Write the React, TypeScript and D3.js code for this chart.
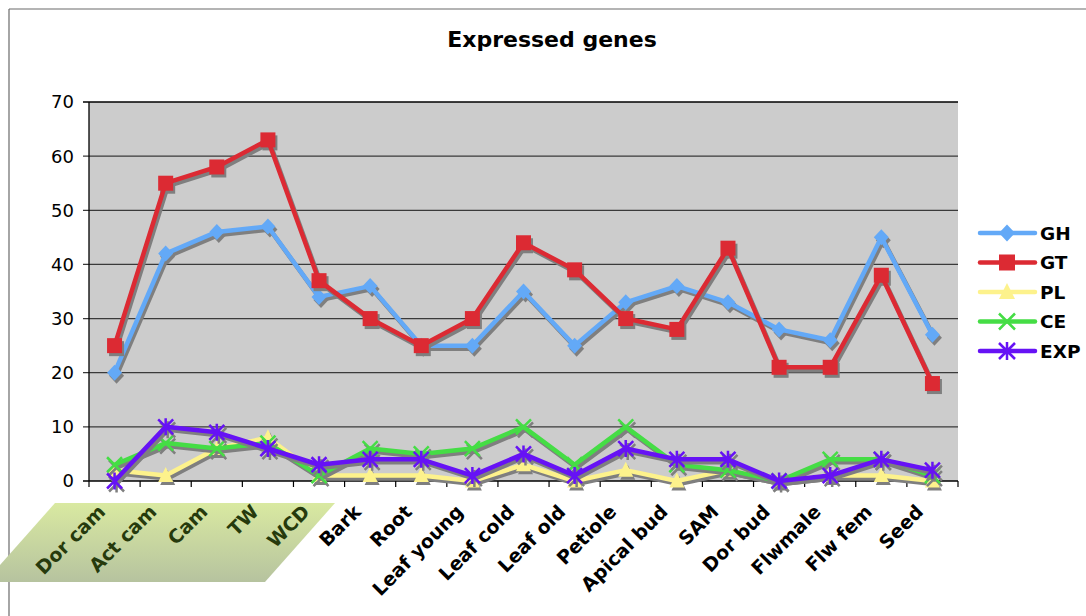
import React from 'react';
import * as d3 from 'd3';

const categories = [
  'Dor cam', 'Act cam', 'Cam', 'TW', 'WCD', 'Bark', 'Root', 'Leaf young', 'Leaf cold',
  'Leaf old', 'Petiole', 'Apical bud', 'SAM', 'Dor bud', 'Flwmale', 'Flw fem', 'Seed',
];
const highlighted = ['Dor cam', 'Act cam', 'Cam', 'TW', 'WCD'];

const ghValues = [20, 42, 46, 47, 34, 36, 25, 25, 35, 25, 33, 36, 33, 28, 26, 45, 27];
const gtValues = [25, 55, 58, 63, 37, 30, 25, 30, 44, 39, 30, 28, 43, 21, 21, 38, 18];
const plValues = [2, 1, 6, 8, 1, 1, 1, 0, 3, 0, 2, 0, 2, 0, 1, 1, 0];
const ceValues = [3, 7, 6, 7, 1, 6, 5, 6, 10, 3, 10, 3, 2, 0, 4, 4, 1];
const expValues = [0, 10, 9, 6, 3, 4, 4, 1, 5, 1, 6, 4, 4, 0, 1, 4, 2];
const yTicks = [0, 10, 20, 30, 40, 50, 60, 70];

const seriesList = [
  { name: 'GH', values: ghValues, color: '#63a9f7', marker: 'diamond' },
  { name: 'GT', values: gtValues, color: '#dc2a33', marker: 'square' },
  { name: 'PL', values: plValues, color: '#fdf28c', marker: 'triangle' },
  { name: 'CE', values: ceValues, color: '#45dd45', marker: 'x' },
  { name: 'EXP', values: expValues, color: '#6612f5', marker: 'star' },
];

const W = 1086;
const H = 616;
const plot = { left: 89, right: 958, top: 102, bottom: 481 };
const font = '"DejaVu Sans", Verdana, sans-serif';

function Marker({ type, x, y, color, s = 7.5 }: { type: string; x: number; y: number; color: string; s?: number }) {
  if (type === 'diamond') {
    return <path d={`M${x},${y - s - 0.5}L${x + s},${y}L${x},${y + s + 0.5}L${x - s},${y}Z`} fill={color} />;
  }
  if (type === 'square') {
    return <rect x={x - s} y={y - s} width={s * 2} height={s * 2} fill={color} />;
  }
  if (type === 'triangle') {
    return <path d={`M${x},${y - s - 1}L${x + s},${y + s - 1}L${x - s},${y + s - 1}Z`} fill={color} />;
  }
  if (type === 'x') {
    return (
      <path d={`M${x - s},${y - s}L${x + s},${y + s}M${x - s},${y + s}L${x + s},${y - s}`}
        stroke={color} strokeWidth={2.5} fill="none" />
    );
  }
  // asterisk
  return (
    <path
      d={`M${x - s},${y - s}L${x + s},${y + s}M${x - s},${y + s}L${x + s},${y - s}M${x},${y - s - 1}L${x},${y + s + 1}`}
      stroke={color} strokeWidth={2.5} fill="none" />
  );
}

export default function App() {
  const x = d3.scaleBand<string>().domain(categories).range([plot.left, plot.right]);
  const y = d3.scaleLinear().domain([0, 70]).range([plot.bottom, plot.top]);
  const cx = (c: string) => (x(c) as number) + x.bandwidth() / 2;

  const line = d3.line<number>()
    .x((_, i) => cx(categories[i]))
    .y(d => y(d));

  const bw = x.bandwidth();
  const boundaries = d3.range(categories.length + 1).map(i => plot.left + i * bw);

  // green parallelogram behind the first five labels
  const pTop = 503;
  const pBot = 582;
  const pLeftTop = 55;
  const pRightTop = 335;
  const skew = 70;

  return (
    <svg width={W} height={H} style={{ position: 'absolute', left: 0, top: 0, background: '#fff' }}>
      <defs>
        <linearGradient id="band" x1="0" y1="0" x2="0" y2="1">
          <stop offset="0%" stopColor="#d9e9a1" />
          <stop offset="100%" stopColor="#b6c39f" />
        </linearGradient>
      </defs>
      <line x1={9} y1={9} x2={W} y2={9} stroke="#6a6a6a" strokeWidth={1.2} />
      <line x1={9} y1={9} x2={9} y2={H} stroke="#6a6a6a" strokeWidth={1.2} />

      <text x={552} y={47} textAnchor="middle" fontFamily={font} fontWeight="bold" fontSize={22}>
        Expressed genes
      </text>

      <rect x={plot.left} y={plot.top} width={plot.right - plot.left} height={plot.bottom - plot.top} fill="#cccccc" />
      {yTicks.map(t => (
        <g key={t}>
          <line x1={plot.left - 6} x2={plot.right} y1={y(t)} y2={y(t)}
            stroke={t === 0 || t === 70 ? '#000' : '#3a3a3a'} strokeWidth={1.3} />
          <text x={74} y={y(t)} dy="0.36em" textAnchor="end" fontFamily={font} fontSize={18}>{t}</text>
        </g>
      ))}
      <line x1={plot.left} x2={plot.left} y1={plot.top} y2={plot.bottom} stroke="#000" strokeWidth={1.3} />
      {boundaries.map((b, i) => (
        <line key={i} x1={b} x2={b} y1={plot.bottom} y2={plot.bottom + 6} stroke="#000" strokeWidth={1.2} />
      ))}

      <path
        d={`M${pLeftTop},${pTop}L${pRightTop},${pTop}L${pRightTop - skew},${pBot}L${pLeftTop - skew},${pBot}Z`}
        fill="url(#band)" />

      {categories.map(c => (
        <text key={c}
          transform={`translate(${cx(c) - 8},${513}) rotate(-45)`}
          textAnchor="end" fontFamily={font} fontWeight="bold" fontSize={19}
          fill={highlighted.includes(c) ? '#263a0c' : '#000'}>
          {c}
        </text>
      ))}

      {seriesList.map(s => (
        <g key={s.name}>
          <g transform="translate(2,3)">
            <path d={line(s.values) || ''} fill="none" stroke="#7f7f7f" strokeWidth={4.5} strokeLinejoin="round" />
            {s.values.map((v, i) => (
              <Marker key={i} type={s.marker} x={cx(categories[i])} y={y(v)} color="#7f7f7f" />
            ))}
          </g>
          <path d={line(s.values) || ''} fill="none" stroke={s.color} strokeWidth={4.5} strokeLinejoin="round" />
          {s.values.map((v, i) => (
            <Marker key={i} type={s.marker} x={cx(categories[i])} y={y(v)} color={s.color} />
          ))}
        </g>
      ))}

      {seriesList.map((s, i) => {
        const ly = 233 + i * 29.5;
        return (
          <g key={s.name}>
            <line x1={980} x2={1035} y1={ly} y2={ly} stroke={s.color} strokeWidth={4.5} strokeLinecap="round" />
            <Marker type={s.marker} x={1007} y={ly} color={s.color} s={8} />
            <text x={1040} y={ly} dy="0.36em" fontFamily={font} fontWeight="bold" fontSize={18.5}>{s.name}</text>
          </g>
        );
      })}
    </svg>
  );
}
